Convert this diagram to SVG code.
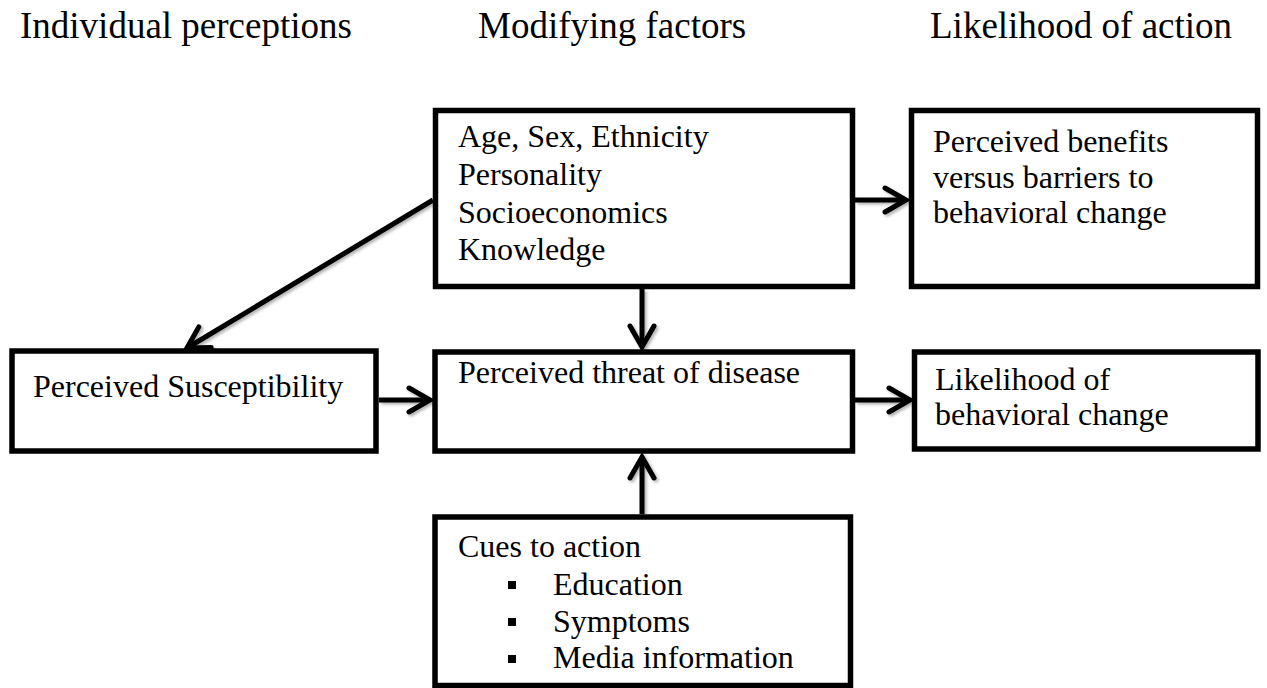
<svg xmlns="http://www.w3.org/2000/svg" width="1267" height="688" viewBox="0 0 1267 688">
<style>
  .hdr { font-family: "Liberation Serif", "Times New Roman", serif; font-size: 37px; fill: #000; }
  .txt { font-family: "Liberation Serif", "Times New Roman", serif; font-size: 32px; fill: #000; }
  .box { fill: #fff; stroke: #000; stroke-width: 5.5; }
  .conn { fill: none; stroke: #000; stroke-width: 5; marker-end: url(#arrow); }
  .bullet { fill: #000; }
</style>
<defs>
  <marker id="arrow" markerUnits="userSpaceOnUse" viewBox="0 0 30 30" markerWidth="30" markerHeight="30" refX="24" refY="15" orient="auto">
    <path d="M3,3 L24,15 L3,27" fill="none" stroke="#000" stroke-width="5" stroke-linecap="round" stroke-linejoin="miter"/>
  </marker>
  <filter id="shadow" x="-20%" y="-20%" width="140%" height="140%">
    <feDropShadow dx="2" dy="2" stdDeviation="1.5" flood-color="#000" flood-opacity="0.3"/>
  </filter>
</defs>
<rect width="1267" height="688" fill="#fff"/>

<g id="headers">
  <text class="hdr" x="20" y="38">Individual perceptions</text>
  <text class="hdr" x="478" y="38">Modifying factors</text>
  <text class="hdr" x="930" y="38">Likelihood of action</text>
</g>

<g id="connectors" filter="url(#shadow)">
  <path class="conn" d="M433,200 L187,348"/>
  <path class="conn" d="M642,289 L642,347"/>
  <path class="conn" d="M642,514 L642,457"/>
  <path class="conn" d="M855,200 L906,200"/>
  <path class="conn" d="M855,400 L910,400"/>
  <path class="conn" d="M379,400 L430,400"/>
</g>

<g id="modifying">
  <rect class="box" x="435.5" y="110.5" width="417" height="176"/>
  <text class="txt" x="458" y="147">Age, Sex, Ethnicity</text>
  <text class="txt" x="458" y="185">Personality</text>
  <text class="txt" x="458" y="223">Socioeconomics</text>
  <text class="txt" x="458" y="260">Knowledge</text>
</g>

<g id="benefits">
  <rect class="box" x="911.5" y="110.5" width="346" height="176"/>
  <text class="txt" x="933" y="152">Perceived benefits</text>
  <text class="txt" x="933" y="188">versus barriers to</text>
  <text class="txt" x="933" y="223">behavioral change</text>
</g>

<g id="susceptibility">
  <rect class="box" x="12" y="351" width="364" height="100"/>
  <text class="txt" x="33" y="397">Perceived Susceptibility</text>
</g>

<g id="threat">
  <rect class="box" x="435" y="352" width="417.5" height="99"/>
  <text class="txt" x="458" y="383">Perceived threat of disease</text>
</g>

<g id="likelihood">
  <rect class="box" x="914.5" y="352" width="343.5" height="97"/>
  <text class="txt" x="935" y="390">Likelihood of</text>
  <text class="txt" x="935" y="425">behavioral change</text>
</g>

<g id="cues">
  <rect class="box" x="435" y="517" width="415.5" height="168.5"/>
  <text class="txt" x="458" y="557">Cues to action</text>
  <rect class="bullet" x="508" y="581" width="8" height="8"/>
  <text class="txt" x="553" y="595">Education</text>
  <rect class="bullet" x="508" y="618" width="8" height="8"/>
  <text class="txt" x="553" y="632">Symptoms</text>
  <rect class="bullet" x="508" y="655" width="8" height="8"/>
  <text class="txt" x="553" y="668">Media information</text>
</g>
</svg>
